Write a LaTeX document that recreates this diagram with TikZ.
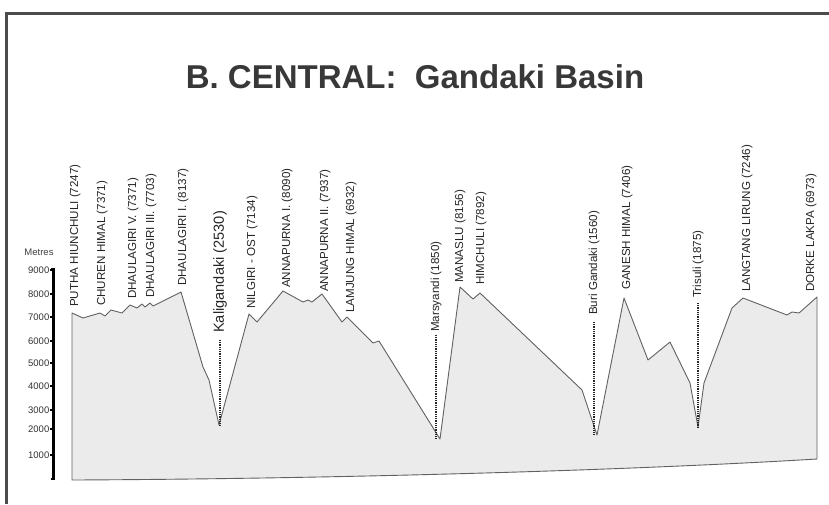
\documentclass[tikz,border=0pt]{standalone}
\usepackage{fontspec}
\setmainfont{Liberation Sans}
\begin{document}
\begin{tikzpicture}[x=1pt,y=-1pt,
  lab/.style={rotate=90,anchor=west,inner sep=0pt,font=\fontsize{11.6}{12}\selectfont,text=black!85},
  biglab/.style={lab,font=\fontsize{14.6}{15}\selectfont},
  ticklab/.style={font=\fontsize{9.5}{10}\selectfont,anchor=east,inner sep=0pt,text=black!80},
  dotline/.style={line width=1.3pt,dash pattern=on 0.9pt off 0.9pt,black!85},
  profile/.style={fill=black!8,draw=black!62,line width=0.9pt,line join=round},
  frame/.style={draw=black!70,line width=3pt}]
\useasboundingbox (0,0) rectangle (829,504);
\fill[white] (0,0) rectangle (829,504);
\draw[frame] (6.5,504) -- (6.5,13.5) -- (829,13.5);
\node[font=\fontsize{33}{33}\selectfont\bfseries,text=black!78,anchor=base,inner sep=0pt] (title) at (415,88) {B. CENTRAL:\ \ Gandaki Basin};

% profile
\path[profile] (72,480) -- (72,313) -- (83,318) -- (100,313) -- (105,316) -- (111,310) -- (122,313)
  -- (130,305) -- (137,308) -- (142,304) -- (145,307) -- (150,303) -- (153,306) -- (181,292)
  -- (203,367) -- (209,380) -- (219,425) -- (249,314) -- (257,322) -- (283,291) -- (303,302)
  -- (308,300) -- (312,302) -- (322,294) -- (342,322) -- (347,317) -- (373,343) -- (379,341)
  -- (440,439) -- (460,287) -- (473,299) -- (480,293) -- (582,390) -- (597,435) -- (624,298)
  -- (648,360) -- (670,342) -- (690,383) -- (698,427) -- (704,383) -- (732,308) -- (743,298)
  -- (787,315) -- (792,312) -- (799,313) -- (817,297) -- (817,459)
  .. controls (600,472) and (300,479) .. (72,480) -- cycle;

% axis
\node[font=\fontsize{9.5}{10}\selectfont,text=black!75,inner sep=0pt] (metres) at (39,252) {Metres};
\draw[line width=2.5pt] (50.5,479) -- (53.5,479) -- (53.5,269.5) -- (50.5,269.5);
\foreach \v/\y in {9000/270,8000/294,7000/317,6000/341,5000/363,4000/386,3000/410,2000/429,1000/455}{
  \node[ticklab] (t\v) at (49.5,\y) {\v};
  \draw[line width=1.2pt] (50,\y) -- (53.5,\y);
}

% labels
\node[lab] (putha) at (75,307) {PUTHA HIUNCHULI (7247)};
\node[lab] (churen) at (102,306) {CHUREN HIMAL (7371)};
\node[lab] (dh5) at (133,299) {DHAULAGIRI V. (7371)};
\node[lab] (dh3) at (151,298) {DHAULAGIRI III. (7703)};
\node[lab] (dh1) at (183,286) {DHAULAGIRI I. (8137)};
\node[biglab] (kali) at (220,333) {Kaligandaki (2530)};
\node[lab] (nilgiri) at (252,309) {NILGIRI - OST (7134)};
\node[lab] (ann1) at (287,288) {ANNAPURNA I. (8090)};
\node[lab] (ann2) at (325,292) {ANNAPURNA II. (7937)};
\node[lab] (lamjung) at (351,313) {LAMJUNG HIMAL (6932)};
\node[lab] (mars) at (436,332) {Marsyandi (1850)};
\node[lab] (manaslu) at (460,283) {MANASLU (8156)};
\node[lab] (himchuli) at (481,285) {HIMCHULI (7892)};
\node[lab] (buri) at (594,315) {Buri Gandaki (1560)};
\node[lab] (ganesh) at (627,290) {GANESH HIMAL (7406)};
\node[lab] (trisuli) at (698,298) {Trisuli (1875)};
\node[lab] (langtang) at (747,292) {LANGTANG LIRUNG (7246)};
\node[lab] (dorke) at (811,292) {DORKE LAKPA (6973)};

% valley markers
\coordinate (vkali) at (220,425);
\coordinate (vmars) at (436,438);
\coordinate (vburi) at (594,435);
\coordinate (vtris) at (698,428);
\draw[dotline,shorten <=7pt] (kali.west) -- (vkali);
\draw[dotline,shorten <=3pt] (mars.west) -- (vmars);
\draw[dotline,shorten <=7pt] (buri.west) -- (vburi);
\draw[dotline,shorten <=5pt] (trisuli.west) -- (vtris);
\end{tikzpicture}
\end{document}
